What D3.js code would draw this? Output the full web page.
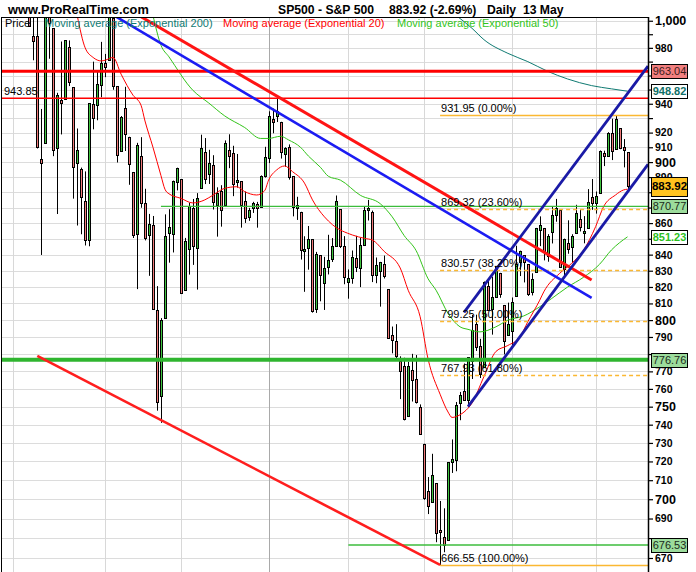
<!DOCTYPE html>
<html><head><meta charset="utf-8">
<script src="https://cdn.jsdelivr.net/npm/d3@7"></script>
<style>
html,body{margin:0;padding:0;background:#fff;}
svg{display:block;font-family:"Liberation Sans",Arial,sans-serif;}
</style></head><body>
<svg id="c" width="696" height="572"></svg>
<script>
// ---------- DATA ----------
const dates = [
"2008-10-01","2008-10-02","2008-10-03","2008-10-06","2008-10-07","2008-10-08","2008-10-09","2008-10-10","2008-10-13","2008-10-14","2008-10-15","2008-10-16","2008-10-17","2008-10-20","2008-10-21","2008-10-22","2008-10-23","2008-10-24","2008-10-27","2008-10-28","2008-10-29","2008-10-30","2008-10-31",
"2008-11-03","2008-11-04","2008-11-05","2008-11-06","2008-11-07","2008-11-10","2008-11-11","2008-11-12","2008-11-13","2008-11-14","2008-11-17","2008-11-18","2008-11-19","2008-11-20","2008-11-21","2008-11-24","2008-11-25","2008-11-26","2008-11-28",
"2008-12-01","2008-12-02","2008-12-03","2008-12-04","2008-12-05","2008-12-08","2008-12-09","2008-12-10","2008-12-11","2008-12-12","2008-12-15","2008-12-16","2008-12-17","2008-12-18","2008-12-19","2008-12-22","2008-12-23","2008-12-24","2008-12-26","2008-12-29","2008-12-30","2008-12-31",
"2009-01-02","2009-01-05","2009-01-06","2009-01-07","2009-01-08","2009-01-09","2009-01-12","2009-01-13","2009-01-14","2009-01-15","2009-01-16","2009-01-20","2009-01-21","2009-01-22","2009-01-23","2009-01-26","2009-01-27","2009-01-28","2009-01-29","2009-01-30",
"2009-02-02","2009-02-03","2009-02-04","2009-02-05","2009-02-06","2009-02-09","2009-02-10","2009-02-11","2009-02-12","2009-02-13","2009-02-17","2009-02-18","2009-02-19","2009-02-20","2009-02-23","2009-02-24","2009-02-25","2009-02-26","2009-02-27",
"2009-03-02","2009-03-03","2009-03-04","2009-03-05","2009-03-06","2009-03-09","2009-03-10","2009-03-11","2009-03-12","2009-03-13","2009-03-16","2009-03-17","2009-03-18","2009-03-19","2009-03-20","2009-03-23","2009-03-24","2009-03-25","2009-03-26","2009-03-27","2009-03-30","2009-03-31",
"2009-04-01","2009-04-02","2009-04-03","2009-04-06","2009-04-07","2009-04-08","2009-04-09","2009-04-13","2009-04-14","2009-04-15","2009-04-16","2009-04-17","2009-04-20","2009-04-21","2009-04-22","2009-04-23","2009-04-24","2009-04-27","2009-04-28","2009-04-29","2009-04-30",
"2009-05-01","2009-05-04","2009-05-05","2009-05-06","2009-05-07","2009-05-08","2009-05-11","2009-05-12","2009-05-13"];

const open = [
1164.17,1160.64,1115.16,1097.56,1057.6,988.91,988.42,902.31,912.75,1009.97,994.6,909.53,942.29,943.51,980.4,951.67,899.08,895.22,874.28,848.92,939.51,939.38,953.11,
968.67,971.31,1001.84,952.4,907.44,936.75,917.15,893.39,853.13,904.36,873.23,852.34,859.03,805.87,755.84,801.2,853.4,852.9,886.89,
888.61,817.94,843.6,869.75,844.43,882.71,906.48,892.17,898.35,871.79,881.07,871.53,908.16,905.98,886.96,887.2,874.31,863.87,869.51,872.37,870.58,890.59,
902.99,929.17,931.17,927.45,905.73,909.91,890.4,869.79,867.28,841.99,844.45,849.64,806.77,839.74,822.16,832.5,837.3,845.73,868.89,845.69,
823.09,825.69,837.77,831.75,846.09,868.24,866.87,827.41,829.91,833.95,818.61,791.06,787.91,775.87,773.25,744.69,770.64,765.76,749.93,
729.57,704.44,698.6,708.27,684.04,680.76,679.28,719.59,720.89,751.97,758.84,753.88,776.01,797.92,784.58,772.31,820.6,806.81,814.06,828.68,809.07,790.88,
793.59,814.53,835.13,839.75,834.12,816.76,829.29,855.73,856.88,839.44,854.54,865.18,868.27,831.25,847.26,844.62,853.91,862.82,854.48,856.85,876.59,
872.74,879.21,906.1,903.95,919.58,909.03,922.99,910.52,906.79];

const high = [
1167.03,1160.64,1153.82,1097.56,1072.91,1021.06,1005.25,936.36,1006.93,1044.31,994.6,947.71,984.64,985.4,985.44,951.67,922.83,896.3,893.78,940.51,969.97,963.23,984.38,
975.57,1007.51,1001.84,952.4,931.46,951.95,917.15,893.39,913.01,916.88,882.29,865.9,864.57,820.52,801.2,865.6,868.94,887.68,896.25,
888.61,850.54,873.12,875.6,879.42,918.57,916.26,908.27,904.63,883.24,884.63,914.66,918.85,911.02,905.47,887.37,880.44,869.79,873.74,873.7,891.12,910.32,
934.73,936.63,943.85,927.45,910,911.93,890.4,877.02,867.28,851.59,858.13,849.64,841.72,839.74,838.61,852.53,850.45,877.86,868.89,851.66,
830.78,842.6,851.85,850.55,870.75,875.01,868.05,838.22,835.48,839.43,818.61,796.17,797.58,778.69,777.85,775.49,780.12,779.42,751.27,
729.57,711.67,724.12,708.27,699.09,695.27,719.6,731.92,752.63,758.29,774.53,778.12,803.04,803.24,788.91,823.37,823.65,826.3,832.98,828.68,809.07,810.48,
813.62,845.61,842.5,839.75,834.12,828.42,856.91,864.31,856.88,852.93,870.35,875.63,868.27,850.09,861.78,852.87,871.8,868.83,864.48,882.06,888.7,
880.48,907.85,907.7,920.28,929.58,931.95,922.99,915.57,906.79];

const low = [
1140.77,1111.43,1098.14,1007.97,996.23,970.97,909.19,839.8,912.75,972.07,903.99,865.83,918.74,943.51,952.47,875.81,858.44,852.85,845.75,845.27,922.26,928.5,944.59,
958.82,971.31,949.86,899.73,906.9,907.47,884.9,850.48,818.69,869.88,848.98,826.84,806.18,747.78,741.02,801.2,834.99,841.37,881.21,
815.69,817.94,827.6,833.6,818.41,882.71,885.38,885.45,868.73,851.35,857.72,871.53,895.94,877.44,883.02,857.09,860.1,861.44,866.52,857.07,870.58,889.67,
899.35,919.53,927.28,902.37,896.81,888.31,864.32,862.02,836.93,817.04,830.66,804.47,804.3,811.29,806.07,827.69,835.4,845.73,844.15,821.67,
812.87,821.98,829.18,819.91,845.42,861.65,822.99,822.3,808.06,825.21,789.17,780.43,777.03,754.25,742.37,744.69,752.89,751.75,734.52,
699.7,692.3,698.6,677.93,666.55,672.88,679.28,713.85,714.76,742.46,753.37,749.93,765.64,781.82,766.2,772.31,805.48,791.37,814.06,813.43,779.81,790.88,
783.32,814.53,826.7,822.79,814.53,814.84,829.29,845.35,836.42,835.58,847.04,860.87,832.39,826.83,840.57,835.45,853.91,854.65,847.12,856.85,868.51,
866.1,879.21,897.34,903.95,901.36,909.03,908.68,896.46,882.18];

const close = [
1161.06,1114.28,1099.23,1056.89,996.23,984.94,909.92,899.22,1003.35,998.01,907.84,946.43,940.55,985.4,955.05,896.78,908.11,876.77,848.92,940.51,930.09,954.09,968.75,
966.3,1005.75,952.77,904.88,930.99,919.21,898.95,852.3,911.29,873.29,850.75,859.12,806.58,752.44,800.03,851.81,857.39,887.68,896.24,
816.21,848.81,870.74,845.22,876.07,909.7,888.67,899.24,873.59,879.73,868.57,913.18,904.42,885.28,887.88,871.63,863.16,868.15,872.8,869.42,890.64,903.25,
931.8,927.45,934.7,906.65,909.73,890.35,870.26,871.79,842.62,843.74,850.12,805.22,840.24,827.5,831.95,836.57,845.71,874.09,845.14,825.88,
825.44,838.51,832.23,845.85,868.6,869.89,827.16,833.74,835.19,826.84,789.17,788.42,778.94,770.05,743.33,773.14,764.9,752.83,735.09,
700.82,696.33,712.87,682.55,683.38,676.53,719.6,721.36,750.74,756.55,753.89,778.12,794.35,784.04,768.54,822.92,806.12,813.88,832.86,815.94,787.53,797.87,
811.08,834.38,842.5,835.48,815.55,825.16,856.56,858.73,841.5,852.06,865.3,869.6,832.39,850.08,843.55,851.92,866.23,857.51,855.16,873.64,872.81,
877.52,907.24,903.8,919.53,907.39,929.23,909.24,908.35,883.92];

// Moving averages
const ema20Dates = ["2008-10-23","2008-10-27","2008-10-29","2008-10-31","2008-11-03","2008-11-05","2008-11-07","2008-11-12","2008-11-14","2008-11-17","2008-11-19","2008-11-21","2008-11-24","2008-11-25","2008-12-01","2008-12-04","2008-12-09","2008-12-11","2008-12-16","2008-12-19","2008-12-23","2008-12-29","2008-12-31","2009-01-02","2009-01-06","2009-01-08","2009-01-12","2009-01-15","2009-01-20","2009-01-23","2009-01-27","2009-02-03","2009-02-06","2009-02-10","2009-02-13","2009-02-20","2009-02-24","2009-02-27","2009-03-03","2009-03-06","2009-03-10","2009-03-11","2009-03-13","2009-03-16","2009-03-18","2009-03-23","2009-03-26","2009-03-31","2009-04-03","2009-04-07","2009-04-13","2009-04-14","2009-04-20","2009-04-23","2009-04-28","2009-05-01","2009-05-05","2009-05-08","2009-05-12","2009-05-13"];
const ema20Vals = [1004,980,973,970.5,971,973,961,946,939,928,910,891,882,879,876,873,875,878,882.6,883.6,880.4,878.2,881,888,894.7,897.4,893.6,886,875,864,859,852.4,850.3,849.2,842,831.7,818,802,777,757,747,744,745.5,747,752,767,781.5,785,790,799,812,817,828.4,834.6,842.9,857.7,870.6,878.2,881.5,882];

const ema50Dates = ["2008-11-19","2008-11-21","2008-11-25","2008-12-04","2008-12-10","2008-12-16","2008-12-23","2008-12-30","2009-01-02","2009-01-07","2009-01-09","2009-01-14","2009-01-16","2009-01-22","2009-01-26","2009-01-29","2009-02-05","2009-02-12","2009-02-18","2009-02-23","2009-02-26","2009-03-03","2009-03-05","2009-03-10","2009-03-13","2009-03-17","2009-03-20","2009-03-26","2009-03-31","2009-04-06","2009-04-13","2009-04-16","2009-04-22","2009-04-28","2009-05-04","2009-05-07","2009-05-11","2009-05-13"];
const ema50Vals = [1004,982,973.5,949.5,940.5,931.5,923.5,916,916,917.5,915,910,904,896.5,890.5,888,878,872.5,864,852,842.5,825,818,804,796,794.5,793,796,800,802.5,808,813,820,826,834,843,847.5,851.23];

const ema200Dates = ["2009-03-12","2009-03-18","2009-03-23","2009-03-31","2009-04-07","2009-04-15","2009-04-22","2009-04-30","2009-05-07","2009-05-13"];
const ema200Vals = [1004,994.4,986,976,970,963,957.5,952.8,950.5,948.82];

// Drawn objects (dates / prices)
const trendStartDates = ["2008-11-04","2008-11-14","2008-10-09","2009-03-16","2009-03-17"];
const trendStartVals  = [1006.1,1003,778.9,804.6,750.0];
const trendEndDates   = ["2009-04-30","2009-04-30","2009-03-06","2009-05-13","2009-05-13"];
const trendEndVals    = [813.3,824.3,666.55,947.2,880.2];
const trendKinds      = ["blue","red","redLow","channel","channel"];
const trendExtend     = [false,false,false,true,true];

const hLineVals  = [963.04, 943.85, 776.76, 870.77, 676.53];
const hLineFrom  = [null, null, null, "2008-11-21", "2009-02-02"];
const hLineKinds = ["redThick","redThin","greenThick","greenThin","greenThin"];

const fibFrom = "2009-03-06";
const fibVals = [931.95, 869.32, 830.57, 799.25, 767.93, 666.55];
const fibPcts = ["0.00%","23.60%","38.20%","50.00%","61.80%","100.00%"];

const boxVals  = [963.04, 948.82, 883.92, 870.77, 851.23, 776.76, 676.53];
const boxKinds = ["red","ema200","last","green","ema50","green","green"];

const monthStarts = ["2008-10-01","2008-11-03","2008-12-01","2009-01-02","2009-02-02","2009-03-02","2009-04-01","2009-05-01"];
const tickVals = d3.range(670, 1001, 10);
const coveredTickLabels = [960, 950, 880, 870, 850, 780, 680];

const legendNames = ["Price","Moving average (Exponential 200)","Moving average (Exponential 20)","Moving average (Exponential 50)"];

// ---------- DRAW ----------
const svg = d3.select("#c");
const L = 1, R = 648, T = 17, B = 572;
const n = dates.length;
const idx = new Map(dates.map((d, i) => [d, i]));
const x = d3.scaleLinear().domain([0, n - 1]).range([13.4, 627.5]);
const y = d3.scaleLog().domain([663.04, 1002.8]).range([B, T]);

svg.append("rect").attr("width", 696).attr("height", 572).attr("fill", "#fff");
svg.append("defs").append("clipPath").attr("id", "clip")
  .append("rect").attr("x", L).attr("y", T).attr("width", R - L).attr("height", B - T);

const plot = svg.append("g").attr("clip-path", "url(#clip)");

// grid
plot.selectAll("line.hg").data(tickVals).join("line")
  .attr("x1", L).attr("x2", R)
  .attr("y1", d => Math.round(y(d)) + 0.5).attr("y2", d => Math.round(y(d)) + 0.5)
  .attr("stroke", "#dcdcdc").attr("stroke-width", 1);
plot.selectAll("line.vg").data(monthStarts).join("line")
  .attr("x1", d => Math.round(x(idx.get(d))) + 0.5).attr("x2", d => Math.round(x(idx.get(d))) + 0.5)
  .attr("y1", T).attr("y2", B)
  .attr("stroke", d => d.startsWith("2009-01") ? "#a9a9a9" : "#d8d8d8").attr("stroke-width", 1);

// candles
const cd = dates.map((d, i) => ({ i, o: open[i], h: high[i], l: low[i], c: close[i] }));
const cx = d => Math.round(x(d.i));
plot.selectAll("line.wick").data(cd).join("line")
  .attr("x1", d => cx(d) + 0.5).attr("x2", d => cx(d) + 0.5)
  .attr("y1", d => y(d.h)).attr("y2", d => y(d.l))
  .attr("stroke", "#000").attr("stroke-width", 1);
const bTop = d => Math.round(y(Math.max(d.o, d.c)));
const bBot = d => Math.max(Math.round(y(Math.min(d.o, d.c))), bTop(d) + 2);
plot.selectAll("rect.bo").data(cd).join("rect")
  .attr("x", d => cx(d) - 1).attr("width", 3)
  .attr("y", d => bTop(d)).attr("height", d => bBot(d) - bTop(d) + 1)
  .attr("fill", "#000");
plot.selectAll("rect.bi").data(cd).join("rect")
  .attr("x", d => cx(d)).attr("width", 1)
  .attr("y", d => bTop(d) + 1).attr("height", d => Math.max(0, bBot(d) - bTop(d) - 1))
  .attr("fill", d => d.c >= d.o ? "#3fc43f" : "#f07a7a");

// moving averages
function maLine(ds, vs, color) {
  const pts = ds.map((d, k) => [x(idx.get(d)), y(vs[k])]);
  plot.append("path").attr("d", d3.line().curve(d3.curveMonotoneX)(pts))
    .attr("fill", "none").attr("stroke", color).attr("stroke-width", 1);
}
maLine(ema200Dates, ema200Vals, "#0f7a72");
maLine(ema50Dates, ema50Vals, "#33c41a");
maLine(ema20Dates, ema20Vals, "#ff0000");

// horizontal lines
const hStyle = {
  redThick: { c: "#ff0000", w: 3 },
  redThin: { c: "#ff0000", w: 1.3 },
  greenThick: { c: "#2fb52f", w: 4 },
  greenThin: { c: "#3cbc3c", w: 1.3 }
};
hLineVals.forEach((v, k) => {
  const s = hStyle[hLineKinds[k]];
  plot.append("line")
    .attr("x1", hLineFrom[k] ? x(idx.get(hLineFrom[k])) : L).attr("x2", R)
    .attr("y1", y(v)).attr("y2", y(v))
    .attr("stroke", s.c).attr("stroke-width", s.w);
});

// fibonacci
const fx = x(idx.get(fibFrom));
fibVals.forEach((v, k) => {
  const solid = (k === 0 || k === fibVals.length - 1);
  plot.append("line").attr("x1", fx).attr("x2", R)
    .attr("y1", Math.round(y(v)) + 0.5).attr("y2", Math.round(y(v)) + 0.5)
    .attr("stroke", "#fbb832").attr("stroke-width", 1.3)
    .attr("stroke-dasharray", solid ? null : "4,3");
});

// trend lines
const tStyle = {
  blue: { c: "#1c1cf2", w: 2.6 },
  red: { c: "#ff1414", w: 3 },
  redLow: { c: "#ff1e1e", w: 2.6 },
  channel: { c: "#1a1aa6", w: 2.8 }
};
trendKinds.forEach((k, j) => {
  let x1 = x(idx.get(trendStartDates[j])), y1 = y(trendStartVals[j]);
  let x2 = x(idx.get(trendEndDates[j])), y2 = y(trendEndVals[j]);
  if (trendExtend[j]) { const m = (y2 - y1) / (x2 - x1); y2 = y2 + m * (R - x2); x2 = R; }
  plot.append("line").attr("x1", x1).attr("y1", y1).attr("x2", x2).attr("y2", y2)
    .attr("stroke", tStyle[k].c).attr("stroke-width", tStyle[k].w);
});

// fib labels
fibVals.forEach((v, k) => {
  plot.append("text").attr("x", fx + 1).attr("y", y(v) - 3)
    .attr("font-size", 11).attr("fill", "#000")
    .text(d3.format(".2f")(v) + " (" + fibPcts[k] + ")");
});
plot.append("text").attr("x", 4).attr("y", y(943.85) - 3)
  .attr("font-size", 11).attr("fill", "#000").text(d3.format(".2f")(943.85));

// legend
const legendX = [5, 45, 223, 397];
const legendC = ["#000", "#0f7a72", "#ff0000", "#33c41a"];
legendNames.forEach((s, k) => {
  svg.append("text").attr("x", legendX[k]).attr("y", 27).attr("font-size", 11)
    .attr("fill", legendC[k]).text(s);
});

// borders
svg.append("line").attr("x1", L + 0.5).attr("x2", L + 0.5).attr("y1", T).attr("y2", B).attr("stroke", "#000");
svg.append("line").attr("x1", L).attr("x2", R).attr("y1", T + 0.5).attr("y2", T + 0.5).attr("stroke", "#000");

// axis
const axis = d3.axisRight(y).tickValues(tickVals).tickSize(5).tickSizeOuter(0).tickPadding(2)
  .tickFormat(v => ((v >= 920 && v % 20 !== 0) || coveredTickLabels.includes(v)) ? "" : (v >= 1000 ? d3.format(",")(v) : String(v)));
const ag = svg.append("g").attr("transform", `translate(${R},0)`).call(axis);
ag.select(".domain").remove();
ag.selectAll(".tick line").attr("stroke", "#000").attr("stroke-width", 1.2);
ag.selectAll(".tick text").attr("fill", "#000").attr("font-weight", "bold")
  .attr("font-family", '"Liberation Sans", Arial, sans-serif')
  .attr("font-size", v => v % 50 === 0 ? 12.5 : 10.5);
ag.selectAll(".tick text").filter(function () { return this.textContent === ""; }).remove();
svg.append("line").attr("x1", R + 0.5).attr("x2", R + 0.5).attr("y1", T).attr("y2", B)
  .attr("stroke", "#000").attr("stroke-width", 1.5);

// value boxes
const bStyle = {
  red: { fill: "#f28080", text: "#3a1a1a", bold: false, h: 14, fs: 11 },
  ema200: { fill: "#fff", text: "#0f6f68", bold: true, h: 14, fs: 11 },
  last: { fill: "#ffc21e", text: "#000", bold: true, h: 19, fs: 11.5 },
  green: { fill: "#9cdc9c", text: "#1a2a1a", bold: false, h: 14, fs: 11 },
  ema50: { fill: "#fff", text: "#2cbf22", bold: true, h: 14, fs: 11 }
};
boxVals.forEach((v, k) => {
  const s = bStyle[boxKinds[k]];
  const cy = y(v);
  svg.append("rect").attr("x", 651.5).attr("y", Math.round(cy - s.h / 2) + 0.5)
    .attr("width", 36).attr("height", s.h)
    .attr("fill", s.fill).attr("stroke", "#000").attr("stroke-width", 1);
  svg.append("text").attr("x", 669.5).attr("y", cy + s.fs * 0.36)
    .attr("text-anchor", "middle").attr("font-size", s.fs)
    .attr("font-weight", s.bold ? "bold" : "normal").attr("fill", s.text)
    .text(d3.format(".2f")(v));
});

// header
svg.append("text").attr("x", 8).attr("y", 13.5).attr("font-size", 12.8).attr("font-weight", "bold")
  .text("www.ProRealTime.com");
const hdr = [["SP500 - S&P 500", 278], ["883.92 (-2.69%)", 389], ["Daily  13 May", 487]];
hdr.forEach(h => svg.append("text").attr("x", h[1]).attr("y", 13.5).attr("font-size", 12.2)
  .attr("font-weight", "bold").attr("xml:space", "preserve").style("white-space", "pre").text(h[0]));
</script>
</body></html>
